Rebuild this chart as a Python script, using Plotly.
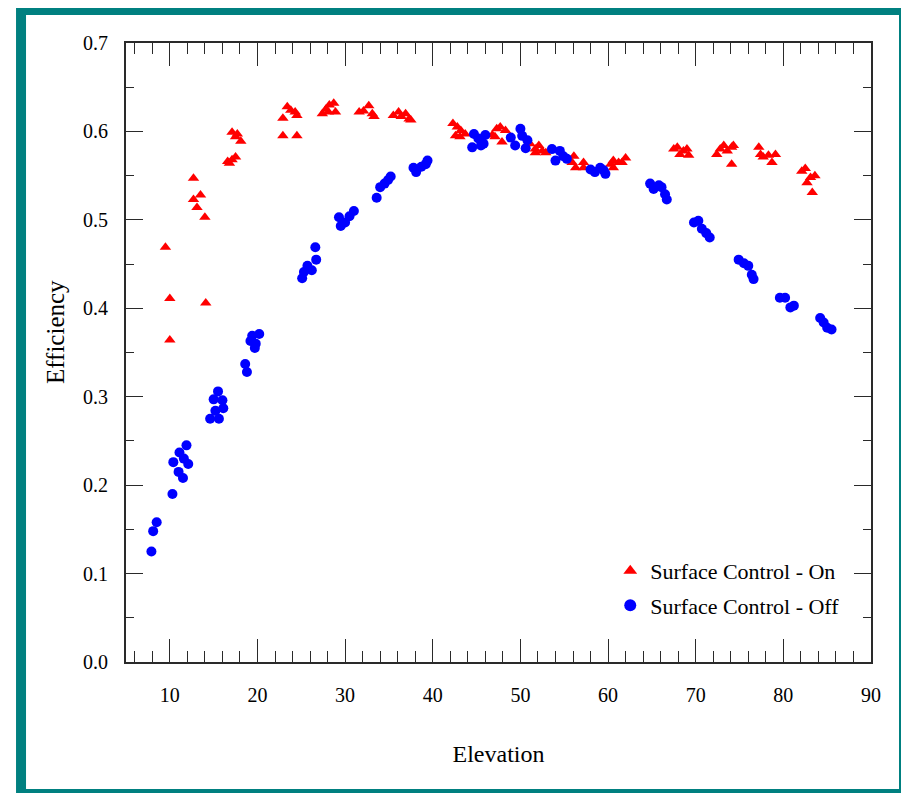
import plotly.graph_objects as go

# Surface Control - On (red triangles)
on_x = [9.5, 10.0, 10.0, 12.7, 12.7, 13.5, 13.1, 14.0, 14.1,
        16.6, 17.1, 17.5, 16.8, 17.1, 17.7, 18.1, 17.5,
        22.9, 22.9, 24.5, 23.4, 23.8, 24.3, 24.5,
        27.4, 27.8, 28.2, 28.7, 28.9, 28.1,
        31.6, 32.1, 32.7, 33.1, 33.3,
        35.5, 36.1, 36.4, 36.9, 37.3, 37.5,
        42.3, 42.8, 42.6, 43.2, 43.1, 43.7,
        46.8, 47.3, 47.7, 48.3, 47.9, 47.1,
        51.1, 51.7, 52.1, 52.5, 52.9, 51.7,
        56.1, 56.3, 55.9, 57.2, 57.2,
        60.3, 60.6, 61.2, 61.6, 62.0, 60.6,
        67.5, 67.9, 68.2, 68.6, 69.0, 69.2,
        72.4, 72.8, 73.2, 73.6, 74.1, 74.1, 74.3,
        77.2, 77.4, 77.7, 78.3, 78.7, 79.1,
        82.1, 82.5, 82.7, 83.1, 83.3, 83.6]
on_y = [0.469, 0.411, 0.364, 0.547, 0.523, 0.528, 0.514, 0.503, 0.406,
        0.566, 0.568, 0.571, 0.564, 0.599, 0.597, 0.589, 0.594,
        0.615, 0.595, 0.595, 0.628, 0.624, 0.622, 0.618,
        0.620, 0.625, 0.630, 0.632, 0.622, 0.622,
        0.622, 0.623, 0.629, 0.620, 0.617,
        0.618, 0.622, 0.617, 0.620, 0.614, 0.613,
        0.609, 0.605, 0.595, 0.601, 0.594, 0.597,
        0.596, 0.603, 0.605, 0.601, 0.588, 0.594,
        0.586, 0.580, 0.584, 0.578, 0.576, 0.576,
        0.572, 0.559, 0.565, 0.565, 0.559,
        0.563, 0.567, 0.565, 0.565, 0.570, 0.559,
        0.580, 0.582, 0.574, 0.578, 0.580, 0.573,
        0.574, 0.580, 0.584, 0.578, 0.582, 0.563, 0.584,
        0.582, 0.574, 0.571, 0.573, 0.565, 0.574,
        0.555, 0.558, 0.542, 0.548, 0.531, 0.550]

# Surface Control - Off (blue circles)
off_x = [7.9, 8.1, 8.5,
         10.3, 10.4, 11.1, 11.0, 11.5, 11.9, 12.1, 11.6,
         14.6, 15.0, 15.5, 15.2, 15.6, 16.0, 16.1,
         18.6, 18.8, 19.2, 19.7, 19.4, 20.2, 19.8,
         25.1, 25.3, 25.7, 26.2, 26.6, 26.7,
         29.3, 29.5, 30.0, 30.5, 31.0,
         33.6, 34.0, 34.5, 34.9, 35.2,
         37.8, 38.1, 38.7, 39.2, 39.4,
         44.5, 44.7, 45.2, 45.5, 46.0, 45.8,
         48.9, 49.4, 50.0, 50.2, 50.6, 50.8,
         53.6, 54.0, 54.5, 54.9, 55.3,
         58.0, 58.5, 59.1, 59.7, 59.5,
         64.8, 65.2, 65.8, 66.1, 66.5, 66.7,
         69.8, 70.3, 70.7, 71.2, 71.6,
         74.9, 75.5, 76.0, 76.4, 76.6,
         79.6, 80.2, 80.8, 81.2,
         84.2, 84.6, 85.0, 85.5]
off_y = [0.125, 0.148, 0.158,
         0.190, 0.226, 0.237, 0.215, 0.208, 0.245, 0.224, 0.230,
         0.275, 0.297, 0.306, 0.284, 0.275, 0.296, 0.287,
         0.337, 0.328, 0.363, 0.355, 0.369, 0.371, 0.360,
         0.434, 0.441, 0.448, 0.443, 0.469, 0.455,
         0.503, 0.493, 0.497, 0.504, 0.510,
         0.525, 0.537, 0.541, 0.545, 0.549,
         0.559, 0.554, 0.560, 0.563, 0.567,
         0.582, 0.597, 0.592, 0.584, 0.596, 0.586,
         0.593, 0.584, 0.603, 0.595, 0.581, 0.590,
         0.580, 0.567, 0.578, 0.572, 0.569,
         0.557, 0.554, 0.559, 0.552, 0.556,
         0.541, 0.535, 0.539, 0.537, 0.529, 0.523,
         0.497, 0.499, 0.490, 0.485, 0.480,
         0.455, 0.451, 0.448, 0.438, 0.433,
         0.412, 0.412, 0.401, 0.403,
         0.389, 0.384, 0.378, 0.376]

FONT = "Liberation Serif, Times New Roman, serif"

fig = go.Figure()
fig.add_trace(go.Scatter(
    x=on_x, y=on_y, mode="markers", name="Surface Control - On",
    legendgroup="on",
    marker=dict(symbol="triangle-up", size=10, color="#ff0000", line=dict(width=0)),
))
fig.add_trace(go.Scatter(
    x=off_x, y=off_y, mode="markers", name="Surface Control - Off",
    legendgroup="off",
    marker=dict(symbol="circle", size=10, color="#0000ff", line=dict(width=0)),
))

axis_common = dict(
    showline=True, linecolor="#2a2a2a", linewidth=2, mirror="allticks",
    ticks="inside", tickcolor="#2a2a2a", tickwidth=1.3,
    showgrid=False, zeroline=False,
    tickfont=dict(family=FONT, size=20, color="black"),
)

fig.update_xaxes(
    range=[5, 90], tick0=0, dtick=10, ticklen=23,
    minor=dict(dtick=2, tick0=0, ticks="inside", ticklen=11, tickcolor="#2a2a2a",
               tickwidth=1.3, showgrid=False),
    title=dict(text="Elevation", font=dict(family=FONT, size=24, color="black"), standoff=40),
    ticklabelstandoff=14,
    **axis_common,
)
fig.update_yaxes(
    range=[0, 0.7], tick0=0, dtick=0.1, tickformat=".1f", ticklen=17,
    minor=dict(dtick=0.05, tick0=0, ticks="inside", ticklen=8, tickcolor="#2a2a2a",
               tickwidth=1.3, showgrid=False),
    ticklabelstandoff=12,
    **axis_common,
)

# y-axis title placed as in the reference (slightly above the axis centre)
fig.add_annotation(
    text="Efficiency", textangle=-90, xref="paper", yref="paper",
    x=-0.0953, y=0.533, xanchor="center", yanchor="middle", showarrow=False,
    font=dict(family=FONT, size=25, color="black"),
)

# teal frame around the whole picture
fig.add_shape(
    type="rect", xref="paper", yref="paper",
    x0=-0.1409, x1=1.0443, y0=-0.2132, y1=1.0533,
    line=dict(color="#008080", width=10), fillcolor="rgba(0,0,0,0)", layer="below",
)

fig.update_layout(
    width=901, height=785,
    margin=dict(l=118, r=38, t=35, b=131),
    paper_bgcolor="white", plot_bgcolor="white",
    font=dict(family=FONT, color="black"),
    showlegend=True,
    legend=dict(
        x=0.650, y=0.181, xanchor="left", yanchor="top",
        font=dict(family=FONT, size=22, color="black"),
        bgcolor="rgba(255,255,255,0)", borderwidth=0,
        itemsizing="constant", tracegroupgap=3,
    ),
)

fig.write_html("out.html")
